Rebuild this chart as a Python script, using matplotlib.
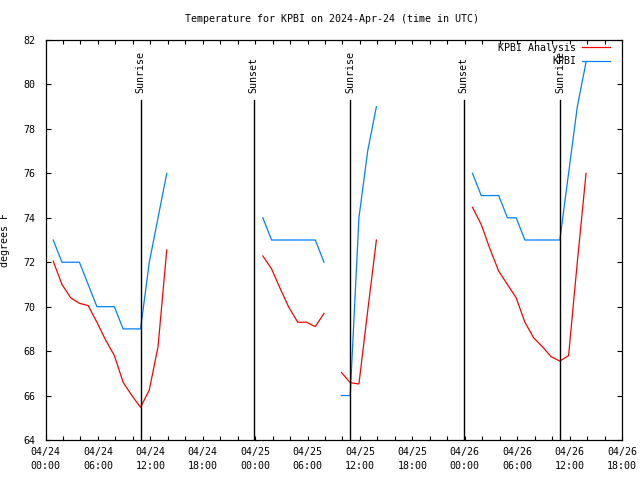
import matplotlib
matplotlib.use('Agg')
import matplotlib.pyplot as plt
import matplotlib.dates as mdates
from matplotlib.lines import Line2D
import pandas as pd

plt.rcParams['font.family'] = ['DejaVu Sans Mono', 'DejaVu Sans']

# ---- data (hourly, segments separated by missing data) ----
seg_starts = ['2024-04-24 00:53', '2024-04-25 00:53', '2024-04-25 09:53', '2024-04-26 00:53']

obs_seg1 = [73, 72, 72, 72, 71, 70, 70, 70, 69, 69, 69, 72, 74, 76]
ana_seg1 = [72.05, 71.0, 70.4, 70.15, 70.05, 69.3, 68.5, 67.8, 66.6, 66.0, 65.47, 66.25, 68.2, 72.55]

obs_seg2 = [74, 73, 73, 73, 73, 73, 73, 72]
ana_seg2 = [72.28, 71.7, 70.8, 69.95, 69.3, 69.3, 69.1, 69.7]

obs_seg3 = [66, 66, 74, 77, 79]
ana_seg3 = [67.04, 66.58, 66.52, 69.8, 73.0]

obs_seg4 = [76, 75, 75, 75, 74, 74, 73, 73, 73, 73, 73, 76, 79, 81]
ana_seg4 = [74.47, 73.7, 72.6, 71.6, 71.0, 70.4, 69.3, 68.6, 68.2, 67.75, 67.55, 67.8, 72.0, 76.0]

obs_segs = [obs_seg1, obs_seg2, obs_seg3, obs_seg4]
ana_segs = [ana_seg1, ana_seg2, ana_seg3, ana_seg4]

sun_times = ['2024-04-24 10:55', '2024-04-24 23:49', '2024-04-25 10:54',
             '2024-04-25 23:52', '2024-04-26 10:54']
sun_labels = ['Sunrise', 'Sunset', 'Sunrise', 'Sunset', 'Sunrise']

x_start = '2024-04-24 00:00'
x_end = '2024-04-26 18:00'
y_min, y_max = 64, 82

title = 'Temperature for KPBI on 2024-Apr-24 (time in UTC)'
ylabel = 'degrees F'
ana_label = 'KPBI Analysis'
obs_label = 'KPBI'

RED = '#ff0000'
BLUE = '#0080ff'
FS = 7.2

fig = plt.figure(figsize=(6.4, 4.8), dpi=100)
L, R, T, B = 45.5, 622, 40, 440
ax = fig.add_axes([L / 640, 1 - B / 480, (R - L) / 640, (B - T) / 480])

for start, ana, obs in zip(seg_starts, ana_segs, obs_segs):
    t_a = pd.date_range(start, periods=len(ana), freq='h')
    t_o = pd.date_range(start, periods=len(obs), freq='h')
    ax.plot(t_a, ana, color=RED, lw=0.9, solid_joinstyle='miter')
    ax.plot(t_o, obs, color=BLUE, lw=0.9, solid_joinstyle='miter')

for st, lab in zip(sun_times, sun_labels):
    t = pd.Timestamp(st)
    ax.plot([t, t], [y_min, 79.3], color='black', lw=1.0)
    ax.text(t, 79.6, lab, rotation=90, ha='center', va='bottom', fontsize=FS)

ax.set_xlim(pd.Timestamp(x_start), pd.Timestamp(x_end))
ax.set_ylim(y_min, y_max)
ax.set_yticks(range(y_min, y_max + 1, 2))

ax.xaxis.set_major_locator(mdates.HourLocator(byhour=[0, 6, 12, 18]))
ax.xaxis.set_minor_locator(mdates.HourLocator(byhour=range(0, 24, 2)))
ax.xaxis.set_major_formatter(mdates.DateFormatter('%m/%d\n%H:%M'))

ax.tick_params(axis='both', which='both', direction='in', top=True, right=True,
               labelsize=FS, width=0.8, color='black')
ax.tick_params(axis='x', which='major', length=3.0, pad=5)
ax.tick_params(axis='x', which='minor', length=3.0)
ax.tick_params(axis='y', which='major', length=3.6, pad=7.5)
for lbl in ax.get_xticklabels():
    lbl.set_linespacing(1.45)

for s in ax.spines.values():
    s.set_linewidth(0.9)
    s.set_color('black')

ax.set_ylabel(ylabel, fontsize=FS)
ax.yaxis.set_label_coords((10 - L) / (R - L), 0.5)

fig.text(332 / 640, 1 - 19 / 480, title, ha='center', va='center', fontsize=FS)

handles = [Line2D([], [], color=RED, lw=0.9), Line2D([], [], color=BLUE, lw=0.9)]
ax.legend(handles, [ana_label, obs_label], loc='upper right',
          bbox_to_anchor=((610 - L) / (R - L), 0.993), markerfirst=False,
          frameon=False, fontsize=FS, handlelength=2.8, handletextpad=0.6,
          labelspacing=0.35, borderaxespad=0, borderpad=0)

fig.savefig('out.png', dpi=100)
